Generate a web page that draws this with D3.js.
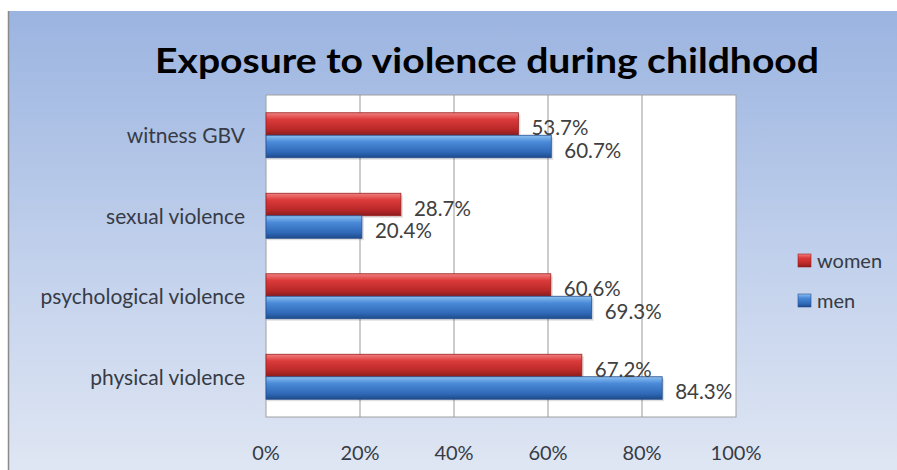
<!DOCTYPE html>
<html>
<head>
<meta charset="utf-8">
<script src="https://cdn.jsdelivr.net/npm/d3@7"></script>
<style>
  body { margin: 0; background: #fff; }
  svg { display: block; }
  .cat-label { font-family: Lato, sans-serif; font-size: 21px; fill: #363b45; }
  .tick-label, .legend-label { font-family: Lato, sans-serif; font-size: 20px; fill: #363b45; }
  .val-label { font-family: Lato, sans-serif; font-size: 20.5px; fill: #404040; }
  .title { font-family: Lato, sans-serif; font-weight: bold; font-size: 35px; fill: #000; }
</style>
</head>
<body>
<svg id="chart" width="897" height="470"></svg>
<script>
const categories = ['witness GBV', 'sexual violence', 'psychological violence', 'physical violence']
const series = ['women', 'men']
const women = [53.7, 28.7, 60.6, 67.2]
const men = [60.7, 20.4, 69.3, 84.3]
const ticks = [0, 20, 40, 60, 80, 100]

const svg = d3.select('#chart')
const width = 897
const height = 470
const plot = { left: 266, right: 736, top: 95, bottom: 417 }

const defs = svg.append('defs')

const bg = defs.append('linearGradient').attr('id', 'bg').attr('x1', 0).attr('y1', 0).attr('x2', 0).attr('y2', 1)
bg.append('stop').attr('offset', '0%').attr('stop-color', '#9bb4e0')
bg.append('stop').attr('offset', '55%').attr('stop-color', '#c2d1ec')
bg.append('stop').attr('offset', '100%').attr('stop-color', '#dfe6f3')

const grads = {
	women: ['#f08080', '#dc3a3a', '#b82828', '#8a1c1c'],
	men: ['#8cc0f0', '#4a8ad8', '#2f69b8', '#1e4a8a']
}
Object.keys(grads).forEach(k => {
	const g = defs.append('linearGradient').attr('id', 'g-' + k).attr('x1', 0).attr('y1', 0).attr('x2', 0).attr('y2', 1)
	g.append('stop').attr('offset', '0%').attr('stop-color', grads[k][0])
	g.append('stop').attr('offset', '30%').attr('stop-color', grads[k][1])
	g.append('stop').attr('offset', '75%').attr('stop-color', grads[k][2])
	g.append('stop').attr('offset', '100%').attr('stop-color', grads[k][3])
})

// chart area background
svg.append('rect')
	.attr('x', 8).attr('y', 11)
	.attr('width', width - 8).attr('height', height - 11)
	.attr('fill', 'url(#bg)')

svg.append('line')
	.attr('x1', 8.5).attr('x2', 8.5).attr('y1', 11).attr('y2', height)
	.attr('stroke', '#8a8a8a').attr('stroke-width', 1.5)

svg.append('text')
	.attr('class', 'title')
	.attr('x', 487).attr('y', 73)
	.attr('text-anchor', 'middle')
	.attr('textLength', 664)
	.attr('lengthAdjust', 'spacingAndGlyphs')
	.text('Exposure to violence during childhood')

const x = d3.scaleLinear().domain([0, 100]).range([plot.left, plot.right])
const y = d3.scaleBand().domain(categories).range([plot.top, plot.bottom])
const inner = d3.scaleBand().domain(series).range([0, 45])

svg.append('rect')
	.attr('x', plot.left).attr('y', plot.top)
	.attr('width', plot.right - plot.left).attr('height', plot.bottom - plot.top)
	.attr('fill', '#fff')
	.attr('stroke', '#a0a0a0')

svg.selectAll('.grid')
	.data(ticks.slice(1, -1))
	.enter()
	.append('line')
	.attr('class', 'grid')
	.attr('x1', d => x(d)).attr('x2', d => x(d))
	.attr('y1', plot.top).attr('y2', plot.bottom)
	.attr('stroke', '#999')

svg.selectAll('.tick-label')
	.data(ticks)
	.enter()
	.append('text')
	.attr('class', 'tick-label')
	.attr('x', d => x(d))
	.attr('y', 460)
	.attr('text-anchor', 'middle')
	.text(d => d + '%')

svg.selectAll('.cat-label')
	.data(categories)
	.enter()
	.append('text')
	.attr('class', 'cat-label')
	.attr('x', 245)
	.attr('y', d => y(d) + y.bandwidth() / 2 + 8)
	.attr('text-anchor', 'end')
	.text(d => d)

const rows = []
categories.forEach((c, i) => {
	rows.push({ cat: c, s: 'women', v: women[i] })
	rows.push({ cat: c, s: 'men', v: men[i] })
})

const groupTop = d => y(d.cat) + (y.bandwidth() - 45) / 2 + inner(d.s)

svg.selectAll('.bar-shadow')
	.data(rows)
	.enter()
	.append('rect')
	.attr('x', x(0) + 1)
	.attr('y', d => groupTop(d) + 2)
	.attr('width', d => x(d.v) - x(0) + 1)
	.attr('height', inner.bandwidth())
	.attr('fill', '#000')
	.attr('opacity', 0.12)

svg.selectAll('.bar')
	.data(rows)
	.enter()
	.append('rect')
	.attr('class', 'bar')
	.attr('x', x(0))
	.attr('y', d => groupTop(d))
	.attr('width', d => x(d.v) - x(0))
	.attr('height', inner.bandwidth())
	.attr('fill', d => 'url(#g-' + d.s + ')')
	.attr('stroke', d => d.s === 'women' ? '#9a2020' : '#254f8f')
	.attr('stroke-width', 0.8)

svg.selectAll('.val-label')
	.data(rows)
	.enter()
	.append('text')
	.attr('class', 'val-label')
	.attr('x', d => x(d.v) + 13)
	.attr('y', d => groupTop(d) + inner.bandwidth() / 2 + 11)
	.text(d => d.v.toFixed(1) + '%')

const legend = svg.selectAll('.legend')
	.data(series)
	.enter()
	.append('g')
	.attr('class', 'legend')
	.attr('transform', (d, i) => 'translate(798, ' + (254 + i * 40) + ')')

legend.append('rect')
	.attr('width', 13).attr('height', 13)
	.attr('fill', d => 'url(#g-' + d + ')')
	.attr('stroke', d => d === 'women' ? '#9a2020' : '#254f8f')
	.attr('stroke-width', 0.6)

legend.append('text')
	.attr('class', 'legend-label')
	.attr('x', 19).attr('y', 14)
	.text(d => d)
</script>
</body>
</html>
